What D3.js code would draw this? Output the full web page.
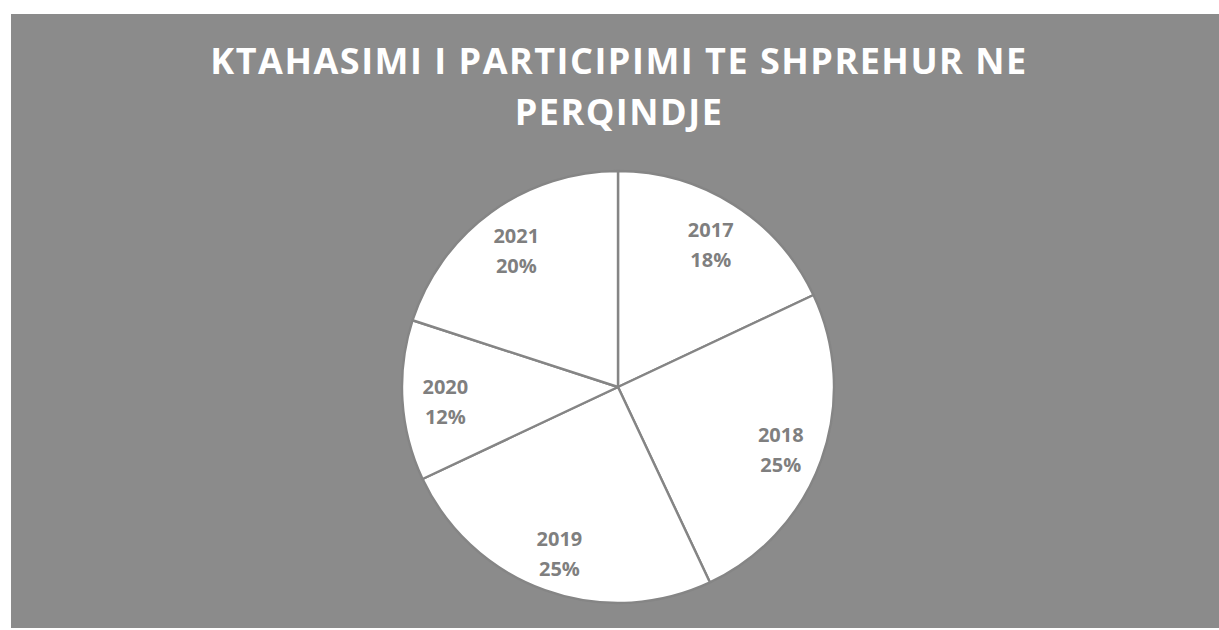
<!DOCTYPE html>
<html>
<head>
<meta charset="utf-8">
<script src="https://cdn.jsdelivr.net/npm/d3@7"></script>
<style>
  body { margin: 0; background: #fff; }
  text { font-family: "Open Sans", "Noto Sans", sans-serif; font-weight: bold; }
</style>
</head>
<body>
<div id="chart"></div>
<script>
// data
var titleLines = ["KTAHASIMI I PARTICIPIMI TE SHPREHUR NE", "PERQINDJE"];
var years = ["2017", "2018", "2019", "2020", "2021"];
var shares = [18, 25, 25, 12, 20];

var width = 1219, height = 630;
var cx = 618, cy = 387, radius = 216, labelRadius = 173;

var svg = d3.select("#chart")
  .append("svg")
    .attr("width", width)
    .attr("height", height);

// grey chart area
svg.append("rect")
    .attr("x", 11)
    .attr("y", 14)
    .attr("width", width - 11)
    .attr("height", 614)
    .attr("fill", "#8b8b8b");

// title, two lines
svg.append("g")
    .selectAll("text")
    .data(titleLines)
    .enter().append("text")
      .attr("x", 619)
      .attr("y", function(d, i) { return 74 + i * 51; })
      .attr("text-anchor", "middle")
      .attr("fill", "#fff")
      .style("font-size", "36px")
      .style("letter-spacing", "1.5px")
      .text(function(d) { return d; });

var data = years.map(function(y, i) { return {year: y, value: shares[i]}; });

var pie = d3.pie()
    .sort(null)
    .value(function(d) { return d.value; });

var arc = d3.arc()
    .innerRadius(0)
    .outerRadius(radius);

var labelArc = d3.arc()
    .innerRadius(labelRadius)
    .outerRadius(labelRadius);

var g = svg.append("g")
    .attr("transform", "translate(" + cx + "," + cy + ")");

var slices = g.selectAll(".slice")
    .data(pie(data))
    .enter().append("g")
      .attr("class", "slice");

slices.append("path")
    .attr("d", arc)
    .attr("fill", "#fff")
    .attr("stroke", "#858585")
    .attr("stroke-width", 2.4)
    .attr("stroke-linejoin", "round");

var labels = slices.append("text")
    .attr("transform", function(d) { return "translate(" + labelArc.centroid(d) + ")"; })
    .attr("text-anchor", "middle")
    .attr("fill", "#7f7f7f")
    .style("font-size", "20px");

labels.append("tspan")
    .attr("x", 0)
    .attr("y", -4)
    .text(function(d) { return d.data.year; });

labels.append("tspan")
    .attr("x", 0)
    .attr("y", 26)
    .text(function(d) { return d.data.value + "%"; });
</script>
</body>
</html>
